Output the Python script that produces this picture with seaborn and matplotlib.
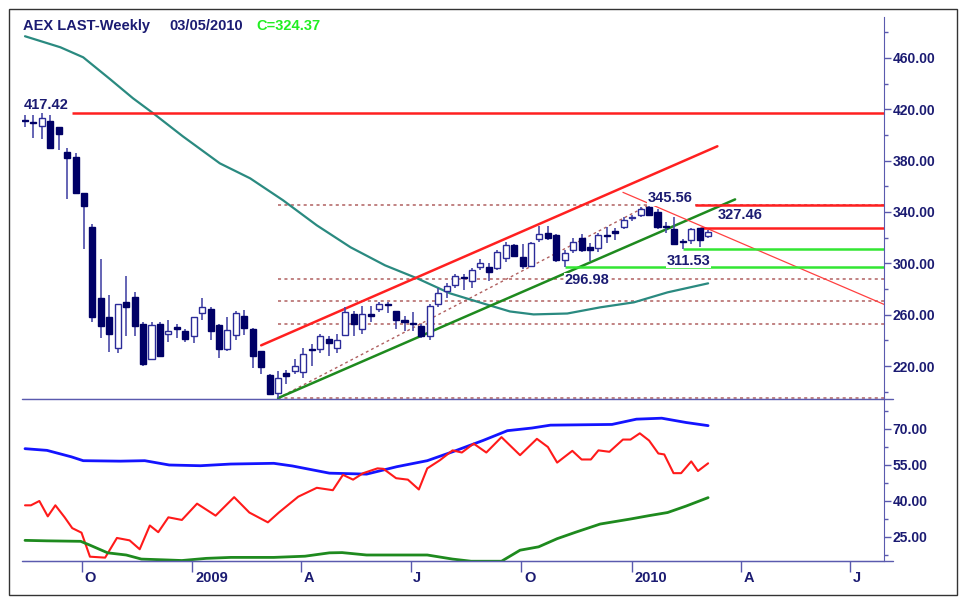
import numpy as np
import pandas as pd
import seaborn as sns
import matplotlib.pyplot as plt
import matplotlib.dates as mdates
import matplotlib.transforms as mtransforms
from matplotlib.lines import Line2D
from matplotlib.patches import Rectangle
from matplotlib.ticker import MultipleLocator, FixedLocator, FormatStrFormatter

# weekly AEX bars, mid Aug 2008 .. 05 Mar 2010
opens = [411.5, 410.2, 406.7, 410.6, 406.0, 387.0, 383.0, 354.5, 328.0, 272.6,
         257.8, 234.4, 269.5, 273.4, 253.0, 225.8, 253.0, 245.3, 250.4, 247.6,
         243.0, 261.0, 264.8, 252.3, 233.6, 244.5, 259.3, 249.0, 232.0, 213.3,
         199.3, 214.9, 216.4, 215.6, 233.6, 233.6, 241.4, 234.4, 244.5, 260.9,
         249.0, 260.9, 264.8, 268.0, 262.5, 256.2, 253.5, 250.8, 243.0, 268.0,
         278.8, 283.5, 289.0, 286.6, 296.8, 296.8, 296.0, 303.8, 314.0, 304.6,
         298.3, 318.6, 323.3, 321.7, 302.2, 310.0, 319.4, 312.4, 311.6, 322.0,
         325.0, 328.0, 335.0, 337.3, 343.7, 339.6, 328.5, 326.4, 317.3, 317.8,
         327.2, 321.0]
highs = [415.3, 415.3, 417.42, 415.5, 406.5, 389.6, 385.7, 355.0, 330.3, 303.0,
         275.7, 268.5, 290.5, 277.3, 253.9, 253.9, 253.9, 256.2, 253.0, 249.0,
         258.0, 272.6, 265.6, 253.0, 258.5, 263.2, 264.0, 250.0, 232.0, 214.0,
         216.4, 217.0, 225.8, 234.4, 237.5, 245.3, 243.7, 245.3, 265.6, 262.5,
         267.0, 267.0, 270.0, 270.0, 263.0, 259.3, 262.0, 253.0, 268.7, 280.4,
         285.0, 291.3, 292.0, 296.0, 303.0, 300.0, 310.0, 316.6, 315.3, 314.7,
         317.0, 328.8, 328.8, 323.0, 310.0, 320.0, 322.5, 316.0, 324.0, 328.0,
         327.5, 335.8, 337.5, 343.7, 345.56, 342.0, 332.0, 335.8, 319.0, 327.2,
         327.46, 326.0]
lows = [406.0, 397.4, 397.0, 388.8, 388.0, 349.8, 354.0, 310.8, 253.9, 242.0,
        231.0, 230.5, 243.7, 243.7, 220.3, 225.0, 227.0, 239.0, 242.0, 239.0,
        238.0, 256.2, 240.6, 226.6, 232.0, 240.6, 244.5, 218.8, 214.0, 198.0,
        194.99, 206.0, 214.0, 211.0, 220.0, 230.5, 228.0, 230.5, 243.0, 243.7,
        245.0, 254.0, 261.7, 261.0, 249.0, 247.0, 247.0, 242.0, 240.6, 266.0,
        272.6, 281.0, 279.6, 280.4, 294.5, 286.6, 295.0, 301.0, 305.0, 295.2,
        297.0, 317.0, 317.8, 301.0, 296.98, 308.0, 309.0, 302.0, 308.5, 315.5,
        318.0, 326.4, 333.0, 336.0, 336.5, 326.4, 323.3, 314.0, 311.53, 315.0,
        312.4, 320.0]
closes = [411.0, 409.6, 413.0, 389.6, 400.5, 381.8, 354.5, 344.3, 257.8, 251.5,
          245.3, 268.0, 265.6, 251.5, 221.9, 252.3, 228.0, 247.6, 249.0, 241.4,
          257.8, 265.6, 247.6, 233.6, 248.4, 261.0, 250.0, 228.0, 219.6, 198.5,
          211.0, 212.5, 220.3, 229.7, 232.8, 243.0, 238.0, 240.6, 261.7, 253.0,
          260.9, 259.3, 268.0, 267.5, 256.2, 253.9, 252.5, 243.0, 266.4, 276.5,
          282.7, 289.8, 288.2, 294.5, 300.0, 293.6, 308.5, 314.0, 306.0, 298.3,
          315.5, 322.5, 319.4, 302.2, 307.7, 317.0, 310.0, 310.0, 321.7, 321.5,
          324.0, 334.0, 335.5, 342.0, 338.0, 328.0, 328.0, 314.7, 316.5, 326.4,
          317.8, 324.37]

# moving average (teal), read as (week, value)
ma_weeks = [0, 4.2, 6.9, 10.1, 12.8, 15.2, 18.7, 23.1, 26.7, 30.6, 34.6, 38.6,
            42.7, 46.5, 50.4, 54.3, 57.5, 60.3, 64.3, 68.2, 72.2, 76.2, 81]
ma_vals = [476.9, 468.3, 460.5, 443.4, 428.6, 416.9, 399.0, 377.9, 366.2, 349.1,
           329.6, 312.5, 298.4, 288.3, 276.6, 268.8, 262.5, 260.2, 260.9, 265.7,
           269.6, 277.4, 284.4]

# trend lines (week, price) end points
upper_weeks, upper_vals = [28.0, 82.1], [236.1, 391.2]
lower_weeks, lower_vals = [30, 84.2], [194.99, 349.8]
mid_weeks, mid_vals = [30, 74], [194.99, 345.56]
down_weeks, down_vals = [70.9, 101.9], [355.3, 267.9]

fib_levels = [345.56, 288.05, 270.27, 252.49, 194.99]
red_levels, red_from = [417.42, 345.56, 327.46], [5.6, 79.5, 80]
green_levels, green_from = [311.53, 296.98], [78, 64]

# lower panel indicators
blue_weeks = [0, 2.6, 5.5, 6.9, 11.3, 14.2, 17.1, 20.8, 24.4, 29.5, 31.7, 36.1,
              40.5, 44.1, 47.7, 50.7, 54.3, 57.2, 60.1, 62.3, 69.6, 72.5, 75.5,
              78.4, 81]
blue_vals = [61.8, 61.1, 58.4, 56.8, 56.6, 56.8, 55.0, 54.7, 55.4, 55.7, 54.6,
             51.6, 51.2, 54.3, 56.8, 60.5, 65.2, 69.3, 70.4, 71.6, 71.9, 74.1,
             74.5, 72.7, 71.4]
red_weeks = [0, 0.7, 1.7, 2.7, 3.6, 4.7, 5.6, 6.7, 7.7, 9.5, 10.9, 12.4, 13.6,
             14.8, 15.8, 17.0, 18.6, 20.4, 22.6, 24.8, 26.6, 28.8, 30.1, 32.4,
             34.6, 36.5, 37.7, 38.9, 40.1, 41.8, 42.5, 44.0, 45.4, 46.7, 47.7,
             49.2, 50.7, 51.8, 53.2, 54.7, 56.5, 58.7, 60.7, 62.0, 63.1, 64.9,
             66.0, 67.1, 68.0, 69.3, 70.9, 71.8, 72.9, 74.0, 75.1, 75.8, 76.9,
             77.8, 79.0, 79.8, 81]
red_vals = [38.2, 38.2, 40.0, 33.6, 38.2, 33.2, 28.7, 26.8, 16.8, 16.4, 24.6,
            23.6, 19.9, 29.8, 27.0, 33.2, 32.1, 38.9, 33.9, 41.6, 35.2, 31.1,
            35.2, 41.8, 45.5, 44.5, 50.9, 48.9, 51.6, 53.6, 53.4, 49.5, 48.9,
            44.8, 53.6, 57.0, 61.1, 60.2, 63.9, 60.2, 66.6, 59.1, 65.9, 62.5,
            56.0, 60.9, 57.3, 57.3, 61.1, 60.5, 65.6, 65.6, 68.2, 65.2, 59.8,
            59.4, 51.6, 51.6, 56.5, 52.5, 55.7]
green_weeks = [0, 2.6, 6.6, 7.7, 9.8, 12.0, 13.8, 17.1, 18.6, 21.5, 24.4, 29.5,
               33.2, 36.1, 37.6, 40.5, 44.1, 47.7, 50.7, 52.9, 56.5, 58.7, 60.9,
               63.1, 65.3, 68.2, 71.8, 74.0, 76.2, 78.4, 81]
green_vals = [23.6, 23.4, 23.2, 21.6, 18.4, 17.5, 15.8, 15.4, 15.2, 16.1, 16.5,
              16.5, 17.0, 18.4, 18.5, 17.5, 17.5, 17.5, 15.8, 14.9, 14.9, 19.5,
              20.9, 24.3, 27.0, 30.4, 32.5, 33.9, 35.2, 37.9, 41.4]

price_ticks = [220, 260, 300, 340, 380, 420, 460]
ind_ticks = [25, 40, 55, 70]
tick_dates = ['2008-10-01', '2009-01-01', '2009-04-01', '2009-07-01',
              '2009-10-01', '2010-01-01', '2010-04-01', '2010-07-01']
tick_labels = ['O', '2009', 'A', 'J', 'O', '2010', 'A', 'J']

navy = '#1b1b72'
spine_c = '#5a5aae'

sns.set_style('white')
plt.rcParams['font.family'] = ['Liberation Sans', 'DejaVu Sans']
plt.rcParams['font.weight'] = 'bold'

dates = pd.date_range(end='2010-03-05', periods=len(closes), freq='W-FRI')
xd = mdates.date2num(dates)
def wk(w):
    return xd[0] + 7 * np.asarray(w, dtype=float)

W, H = 963, 603
fig = plt.figure(figsize=(W / 100, H / 100), dpi=100)
def box(l, t, r, b):
    return [l / W, 1 - b / H, (r - l) / W, (b - t) / H]
ax = fig.add_axes(box(22, 17, 884, 399))
ax2 = fig.add_axes(box(22, 399, 884, 561), sharex=ax)
x_right = xd[0] + 713
ax.set_xlim(xd[0] - 2.5, x_right)
ax.set_ylim(194.3, 491.9)
ax2.set_ylim(15.0, 82.5)

# candles
o, h, l, c = map(np.array, (opens, highs, lows, closes))
down = c < o
faces = np.where(down, '#000066', 'white')
ax.vlines(xd, l, h, color='#4a4aa8', lw=1.2, zorder=3)
ax.bar(xd, np.maximum(np.abs(c - o), 0.7), bottom=np.minimum(o, c), width=5.0,
       color=faces, edgecolor=np.where(down, '#000066', '#2b2b99'), linewidth=1, zorder=4)

# moving average
sns.lineplot(x=wk(ma_weeks), y=ma_vals, ax=ax, color='#2a8a80', lw=1.6, zorder=2)

# fib levels and trend lines
ax.hlines(fib_levels, wk(30), x_right, colors='#b06060', linestyles=(0, (2, 2.2)), lw=1.1, zorder=1)
ax.plot(wk(mid_weeks), mid_vals, color='#b06060', ls=(0, (2, 2.2)), lw=1, zorder=1)
ax.plot(wk(upper_weeks), upper_vals, color='#ff2020', lw=1.8, zorder=2)
ax.plot(wk(lower_weeks), lower_vals, color='#1e8a1e', lw=1.8, zorder=2)
ax.plot(wk(down_weeks), down_vals, color='#ff4040', lw=0.9, zorder=2)
for lev, w0 in zip(red_levels, red_from):
    ax.hlines(lev, wk(w0), x_right, colors='#ff2020', lw=1.8, zorder=2)
for lev, w0 in zip(green_levels, green_from):
    ax.hlines(lev, wk(w0), x_right, colors='#33e633', lw=1.8, zorder=2)

lab = dict(color=navy, fontsize=10.5, textcoords='offset points', zorder=6)
wbox = dict(facecolor='white', edgecolor='none', pad=0.5)
ax.annotate('417.42', (wk(-0.1), 417.42), xytext=(0, 5.5), ha='left', va='center', **lab)
ax.annotate('345.56', (wk(74), 345.56), xytext=(15, 5), ha='center', va='center', bbox=wbox, **lab)
ax.annotate('327.46', (wk(80), 327.46), xytext=(29, 9.5), ha='center', va='center', **lab)
ax.annotate('311.53', (wk(78), 311.53), xytext=(4, -8.8), ha='center', va='center', bbox=wbox, **lab)
ax.annotate('296.98', (wk(64), 296.98), xytext=(0, -9.5), ha='left', va='center', bbox=wbox, **lab)

# lower panel
sns.lineplot(x=wk(blue_weeks), y=blue_vals, ax=ax2, color='#1414ff', lw=2)
sns.lineplot(x=wk(red_weeks), y=red_vals, ax=ax2, color='#ff1a1a', lw=1.5)
sns.lineplot(x=wk(green_weeks), y=green_vals, ax=ax2, color='#1e8a1e', lw=2)

# axes styling
for a in (ax, ax2):
    a.spines['top'].set_visible(False)
    a.spines['left'].set_visible(False)
    a.spines['right'].set_color(spine_c)
    a.spines['bottom'].set_color(spine_c)
    a.set_xlabel('')
    a.set_ylabel('')
    a.yaxis.tick_right()
    a.tick_params(axis='y', which='major', length=5, width=1, color=spine_c,
                  labelcolor=navy, labelsize=10, pad=1)
    a.tick_params(axis='y', which='minor', length=3, width=1, color=spine_c, right=True)
    a.yaxis.set_major_formatter(FormatStrFormatter('%.2f'))
ax.yaxis.set_major_locator(FixedLocator(price_ticks))
ax.yaxis.set_minor_locator(MultipleLocator(40))
ax2.yaxis.set_major_locator(FixedLocator(ind_ticks))
ax2.yaxis.set_minor_locator(FixedLocator([17.5, 32.5, 47.5, 62.5, 77.5]))

ax2.set_xticks(mdates.date2num(pd.to_datetime(tick_dates)), labels=tick_labels)
ax2.tick_params(axis='x', length=8, width=1, color=spine_c, labelcolor=navy,
                labelsize=10.5, pad=-1, bottom=True)
ax.tick_params(axis='x', bottom=False, labelbottom=False)
shift = mtransforms.ScaledTranslation(2 / 72, 0, fig.dpi_scale_trans)
for t in ax2.get_xticklabels():
    t.set_ha('left')
    t.set_transform(t.get_transform() + shift)

# title
tk = dict(fontsize=10.5, va='center', ha='left')
fig.text(23 / W, 1 - 26 / H, 'AEX LAST-Weekly', color=navy, **tk)
fig.text(169 / W, 1 - 26 / H, '03/05/2010', color=navy, **tk)
fig.text(256 / W, 1 - 26 / H, 'C=324.37', color='#22ee22', **tk)

# frame and panel separators
for yy in (399, 561):
    fig.add_artist(Line2D([22 / W, 893 / W], [1 - yy / H] * 2, color=spine_c, lw=1))
fig.add_artist(Rectangle((9 / W, 1 - 595 / H), 948 / W, 586 / H, transform=fig.transFigure,
                         fill=False, edgecolor='#333333', lw=1))

fig.savefig('out.png', dpi=100, facecolor='white')
